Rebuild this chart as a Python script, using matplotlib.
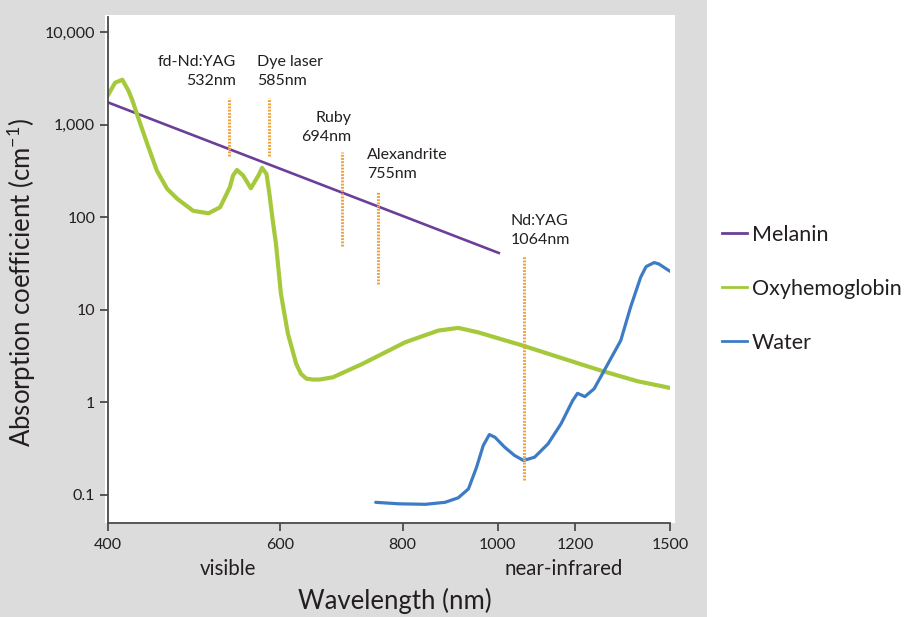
import numpy as np
import matplotlib
matplotlib.use('Agg')
import matplotlib.pyplot as plt
from matplotlib.patches import Rectangle
from matplotlib.lines import Line2D
from matplotlib.ticker import NullLocator

plt.rcParams['font.family'] = ['Lato', 'DejaVu Sans']
plt.rcParams['mathtext.fontset'] = 'custom'
plt.rcParams['mathtext.rm'] = 'Lato'

# ---------------- data ----------------
xtick_values = [400, 600, 800, 1000, 1200, 1500]
xtick_labels = ['400', '600', '800', '1000', '1200', '1500']
ytick_values = [0.1, 1, 10, 100, 1000, 10000]
ytick_labels = ['0.1', '1', '10', '100', '1,000', '10,000']

melanin_wl = [400, 1003]
melanin_abs = [1740, 41]

oxy_wl = [400, 407, 414, 420, 424, 429, 439, 449, 460, 471, 489, 507, 521, 533, 537,
          542, 550, 560, 570, 575, 581, 585, 589, 594, 601, 606, 611, 623, 630, 638,
          648, 658, 679, 728, 805, 870, 912, 955, 1061, 1170, 1275, 1389, 1500]
oxy_abs = [2050, 2830, 3050, 2320, 1810, 1250, 617, 318, 202, 158, 117, 110, 128, 210, 281,
           323, 281, 205, 281, 340, 293, 178, 99.5, 52, 15, 9.0, 5.5, 2.6, 2.03, 1.8,
           1.76, 1.76, 1.86, 2.6, 4.45, 5.95, 6.36, 5.7, 4.1, 2.94, 2.2, 1.69, 1.43]

water_wl = [751, 793, 844, 884, 912, 934, 952, 967, 981, 994, 1017, 1041, 1063, 1091,
            1126, 1161, 1193, 1207, 1228, 1255, 1285, 1336, 1367, 1400, 1418, 1445,
            1461, 1500]
water_abs = [0.083, 0.080, 0.079, 0.083, 0.093, 0.116, 0.199, 0.341, 0.448, 0.419,
             0.327, 0.266, 0.235, 0.255, 0.355, 0.585, 1.04, 1.25, 1.15, 1.40, 2.20,
             4.64, 10.6, 22.4, 29.2, 32.3, 31.2, 26.0]

laser_wl = [532, 585, 694, 755, 1064]
laser_top = [1920, 1920, 500, 193, 38.4]
laser_bottom = [461, 461, 49, 19.1, 0.143]
laser_labels = ['fd-Nd:YAG\n532nm', 'Dye laser\n585nm', 'Ruby\n694nm',
                'Alexandrite\n755nm', 'Nd:YAG\n1064nm']
laser_align = ['right', 'left', 'right', 'left', 'left']

series_names = ['Melanin', 'Oxyhemoglobin', 'Water']
series_colors = ['#6b3f98', '#a6c93c', '#3d7cc4']

# ---------------- figure ----------------
W, H = 905, 617
fig = plt.figure(figsize=(W / 100, H / 100), dpi=100)
fig.patch.set_facecolor('white')
fig.patches.append(Rectangle((0, 0), 707 / W, 1, transform=fig.transFigure,
                             facecolor='#dcdcdc', edgecolor='none', zorder=-10))
fig.patches.append(Rectangle((105 / W, 1 - 522.7 / H), (675 - 105) / W, (522.7 - 15) / H,
                             transform=fig.transFigure, facecolor='white',
                             edgecolor='none', zorder=-9))

ax = fig.add_axes([107.7 / W, 1 - 522.7 / H, (670 - 107.7) / W, 506 / H])
ax.set_facecolor('white')
ax.set_xscale('log')
ax.set_yscale('log')
ax.set_xlim(400, 1500)
ax.set_ylim(0.05, 14630)

ax.plot(melanin_wl, melanin_abs, color=series_colors[0], lw=1.9, zorder=2)
ax.plot(oxy_wl, oxy_abs, color=series_colors[1], lw=3.0, zorder=2,
        solid_joinstyle='round', solid_capstyle='round')
ax.plot(water_wl, water_abs, color=series_colors[2], lw=2.3, zorder=2,
        solid_joinstyle='round', solid_capstyle='round')

ax.vlines(laser_wl, laser_bottom, laser_top, colors='#f0a23c',
          linestyles=(0, (0.6, 0.45)), lw=2.2, zorder=3)

offsets = [(7, 27), (-12, 27), (9, 25), (-11, 26), (-13, 25)]
for wl, top, lab, al, off in zip(laser_wl, laser_top, laser_labels, laser_align, offsets):
    ax.annotate(lab, xy=(wl, top), xytext=off, textcoords='offset pixels',
                ha=al, va='center', multialignment=al, fontsize=11.5,
                color='#231f20', linespacing=1.5, zorder=4)

ax.set_xticks(xtick_values)
ax.set_xticklabels(xtick_labels)
ax.set_yticks(ytick_values)
ax.set_yticklabels(ytick_labels)
ax.xaxis.set_minor_locator(NullLocator())
ax.yaxis.set_minor_locator(NullLocator())

for s in ['top', 'right']:
    ax.spines[s].set_visible(False)
for s in ['left', 'bottom']:
    ax.spines[s].set_color('#4a4a4a')
    ax.spines[s].set_linewidth(1.3)
ax.tick_params(axis='both', direction='out', length=6, width=1.3, color='#4a4a4a',
               labelcolor='#231f20', labelsize=11.5)
ax.tick_params(axis='x', pad=5)
ax.tick_params(axis='y', pad=3)

ax.text(0.214, -0.091, 'visible', transform=ax.transAxes, ha='center', va='center',
        fontsize=14.8, color='#231f20')
ax.text(0.8106, -0.091, 'near-infrared', transform=ax.transAxes, ha='center', va='center',
        fontsize=14.8, color='#231f20')

fig.text(395 / W, 1 - 601 / H, 'Wavelength (nm)', ha='center', va='center',
         fontsize=18.5, color='#231f20')
fig.text(21 / W, 1 - 282 / H, r'Absorption coefficient (cm$^{\mathregular{-1}}$)',
         rotation=90, ha='center', va='center', fontsize=18.5, color='#231f20')

handles = [Line2D([], [], color=c, lw=2.0) for c in series_colors]
fig.legend(handles, series_names, loc='center left',
           bbox_to_anchor=(722 / W, 1 - 289 / H), frameon=False, fontsize=15.5,
           handlelength=1.15, handletextpad=0.25, labelspacing=1.58,
           borderpad=0, borderaxespad=0, labelcolor='#231f20')

fig.savefig('out.png', dpi=100, facecolor=fig.get_facecolor())
